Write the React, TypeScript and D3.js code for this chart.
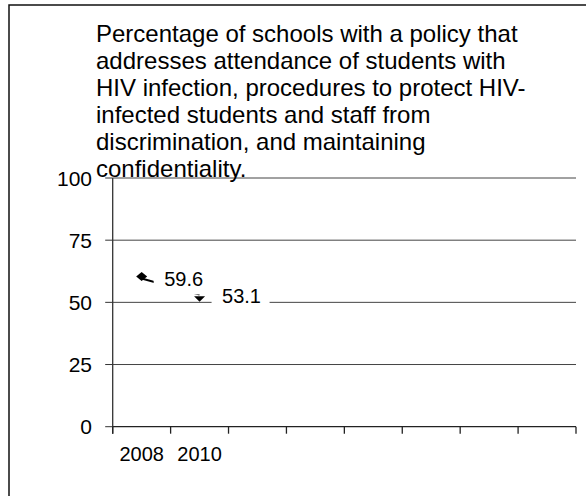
import React from "react";
import * as d3 from "d3";

const categoryLabels = ["2008", "2010", "", "", "", "", "", ""];
const seriesYears = ["2008", "2010"];
const seriesValues = [59.6, 53.1];
const seriesMarkers = ["diamond", "triangle"];
const yTicks = [0, 25, 50, 75, 100];
const titleLines = [
  "Percentage of schools with a policy that",
  "addresses attendance of students with",
  "HIV infection, procedures to protect HIV-",
  "infected students and staff from",
  "discrimination, and maintaining",
  "confidentiality.",
];

const W = 586;
const H = 496;
const plot = { left: 112.7, right: 576, top: 178, bottom: 426.7 };
const FONT = "'Liberation Sans', Arial, sans-serif";

export default function App() {
  const x = d3
    .scaleBand<number>()
    .domain(d3.range(categoryLabels.length))
    .range([plot.left, plot.right])
    .padding(0);
  const y = d3.scaleLinear().domain([0, 100]).range([plot.bottom, plot.top]);
  const cx = (yr: string) => {
    const i = categoryLabels.indexOf(yr);
    return (x(i) as number) + x.bandwidth() / 2;
  };
  const pts = seriesYears.map((yr, i) => ({ x: cx(yr), y: y(seriesValues[i]), v: seriesValues[i], m: seriesMarkers[i] }));
  const line = d3.line<{ x: number; y: number }>().x((d) => d.x).y((d) => d.y);
  const boundaries = d3.range(categoryLabels.length + 1).map((i) => plot.left + i * x.bandwidth());
  const titleBaseline0 = 42;
  const titleStep = 27;

  return (
    <svg
      width={W}
      height={H}
      style={{ position: "absolute", left: 0, top: 0, background: "#fff" }}
      fontFamily={FONT}
    >
      <rect x={0} y={0} width={W} height={H} fill="#fff" />
      <path d={`M9,${H + 2}V5H${W + 2}`} fill="none" stroke="#111" strokeWidth={1.5} />
      {/* gridlines */}
      {yTicks.filter((t) => t > 0).map((t) => (
        <line key={t} x1={plot.left} x2={plot.right} y1={y(t)} y2={y(t)} stroke="#444" strokeWidth={1} />
      ))}
      {/* y ticks */}
      {yTicks.map((t) => (
        <line key={"yt" + t} x1={plot.left - 7.5} x2={plot.left} y1={y(t)} y2={y(t)} stroke="#333" strokeWidth={1} />
      ))}
      {/* y axis */}
      <line x1={plot.left} x2={plot.left} y1={plot.top} y2={plot.bottom + 7} stroke="#333" strokeWidth={1.3} />
      {/* x axis */}
      <line x1={plot.left} x2={plot.right} y1={plot.bottom} y2={plot.bottom} stroke="#222" strokeWidth={1.3} />
      {boundaries.map((b, i) => (
        <line key={"xt" + i} x1={b} x2={b} y1={plot.bottom} y2={plot.bottom + 7} stroke="#222" strokeWidth={1.3} />
      ))}
      {/* y labels */}
      {yTicks.map((t) => (
        <text key={"yl" + t} x={92} y={y(t) + 7.5} textAnchor="end" fontSize={21} fill="#000">
          {t}
        </text>
      ))}
      {/* x labels */}
      {categoryLabels.map((c, i) => (
        <text key={"xl" + i} x={(x(i) as number) + x.bandwidth() / 2} y={461} textAnchor="middle" fontSize={20} fill="#000">
          {c}
        </text>
      ))}
      {/* title */}
      {titleLines.map((l, i) => (
        <text key={"t" + i} x={96} y={titleBaseline0 + i * titleStep} fontSize={24} fill="#000">
          {l}
        </text>
      ))}
      {/* series line */}
      <path d={line(pts) || ""} fill="none" stroke="#000" strokeWidth={2} />
      {/* data label boxes (white fill hides line/gridline behind) */}
      {pts.map((p, i) => (
        <rect key={"lb" + i} x={p.x + 12} y={p.y - 12} width={58} height={i === 0 ? 28 : 24} fill="#fff" />
      ))}
      {pts.map((p, i) =>
        p.m === "diamond" ? (
          <path key={"m" + i} d={`M${p.x - 5.5},${p.y - 2}L${p.x},${p.y - 6.5}L${p.x + 5.5},${p.y - 2}L${p.x},${p.y + 2.5}Z`} fill="#000" />
        ) : (
          <path key={"m" + i} d={`M${p.x - 5.5},${p.y + 1.5}L${p.x + 5.5},${p.y + 1.5}L${p.x},${p.y + 7}Z`} fill="#000" />
        )
      )}
      {pts.map((p, i) => (
        <text key={"dl" + i} x={p.x + 22.5} y={p.y + 8} fontSize={20} fill="#000">
          {p.v.toFixed(1)}
        </text>
      ))}
    </svg>
  );
}
